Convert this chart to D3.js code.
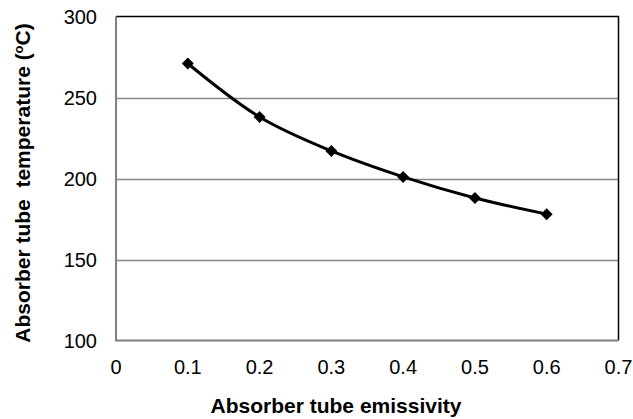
<!DOCTYPE html>
<html><head><meta charset="utf-8">
<script src="https://cdn.jsdelivr.net/npm/d3@7"></script>
<style>body{margin:0;background:#fff}svg{display:block}text{font-family:Arial,"Liberation Sans",sans-serif}</style>
</head><body><svg id="c" width="633" height="419"></svg>
<script>
const emissivity = [0.1, 0.2, 0.3, 0.4, 0.5, 0.6];
const temperature = [271, 238, 217, 201, 188, 178];
const xTicks = [0, 0.1, 0.2, 0.3, 0.4, 0.5, 0.6, 0.7];
const yTicks = [100, 150, 200, 250, 300];
const xTitle = "Absorber tube emissivity";
const yTitleMain = "Absorber tube\u00a0\u00a0temperature (";
const yTitleSup = "o";
const yTitleEnd = "C)";

const svg = d3.select("#c");
const L = 116, R = 618.5, T = 16.5, B = 340.5;
const x = d3.scaleLinear().domain([0, 0.7]).range([L, R]);
const y = d3.scaleLinear().domain([100, 300]).range([B, T]);

// gridlines
svg.append("g").selectAll("line").data(yTicks.filter(d => d > 100 && d < 300)).join("line")
  .attr("x1", L).attr("x2", R).attr("y1", d => Math.round(y(d)) + 0.5).attr("y2", d => Math.round(y(d)) + 0.5)
  .attr("stroke", "#888").attr("stroke-width", 1.5);

// frame top/right black
svg.append("path").attr("d", `M${L},${T}H${R}V${B}`).attr("fill", "none").attr("stroke", "#000").attr("stroke-width", 1.5);
// left/bottom gray axis
svg.append("path").attr("d", `M${L},${T}V${B}H${R}`).attr("fill", "none").attr("stroke", "#808080").attr("stroke-width", 2);

// tick labels
svg.append("g").selectAll("text").data(yTicks).join("text")
  .attr("x", 97).attr("y", d => y(d) + 7.5).attr("text-anchor", "end")
  .attr("font-size", 20).text(d => d);
svg.append("g").selectAll("text").data(xTicks).join("text")
  .attr("x", d => x(d)).attr("y", 374).attr("text-anchor", "middle")
  .attr("font-size", 20).text(d => d);

// titles
svg.append("text").attr("x", 336).attr("y", 413).attr("text-anchor", "middle")
  .attr("font-size", 21).attr("font-weight", "bold").text(xTitle);
const yt = svg.append("text").attr("transform", `translate(30,183) rotate(-90)`).attr("text-anchor", "middle")
  .attr("font-size", 21).attr("font-weight", "bold");
yt.append("tspan").text(yTitleMain);
yt.append("tspan").attr("font-size", 13).attr("dy", -7).text(yTitleSup);
yt.append("tspan").attr("dy", 7).text(yTitleEnd);

// line
const pts = emissivity.map((e, i) => [e, temperature[i]]);
svg.append("path").datum(pts)
  .attr("d", d3.line().x(d => x(d[0])).y(d => y(d[1])).curve(d3.curveCatmullRom.alpha(0.5)))
  .attr("fill", "none").attr("stroke", "#000").attr("stroke-width", 3);

// markers
svg.append("g").selectAll("path").data(pts).join("path")
  .attr("transform", d => `translate(${x(d[0])},${y(d[1])})`)
  .attr("d", "M0,-6L6,0L0,6L-6,0Z").attr("fill", "#000");
</script></body></html>
